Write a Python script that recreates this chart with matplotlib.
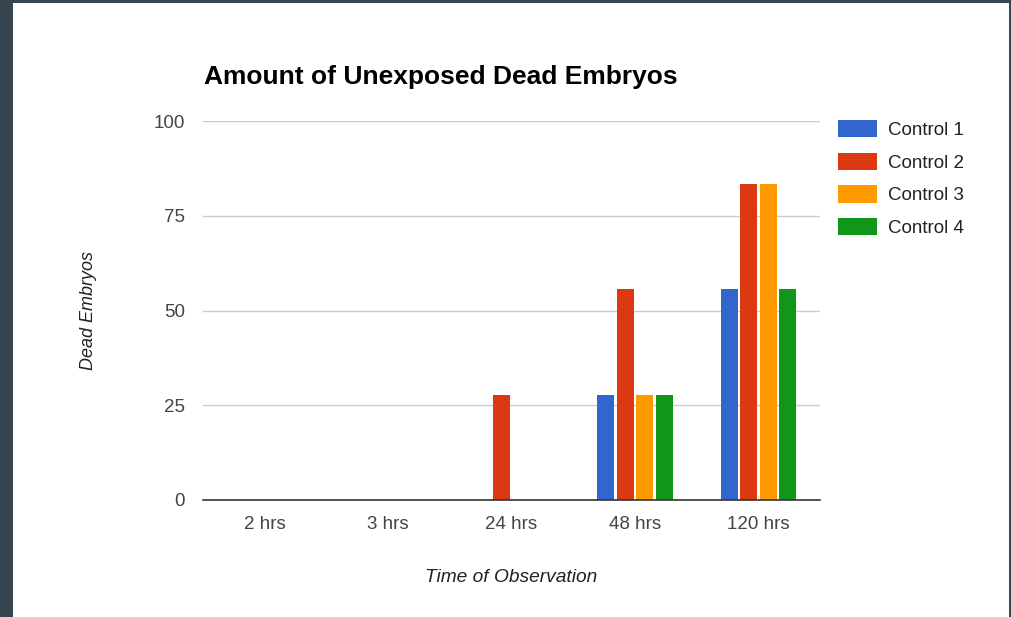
import matplotlib.pyplot as plt
import numpy as np

# Dead embryos (out of 18, as percent) per observation time
times = ["2 hrs", "3 hrs", "24 hrs", "48 hrs", "120 hrs"]
control_1 = [0, 0, 0, 27.78, 55.56]
control_2 = [0, 0, 27.78, 55.56, 83.33]
control_3 = [0, 0, 0, 27.78, 83.33]
control_4 = [0, 0, 0, 27.78, 55.56]
series_names = ["Control 1", "Control 2", "Control 3", "Control 4"]
colors = ["#3366cc", "#dc3912", "#ff9900", "#109618"]

plt.rcParams["font.family"] = ["Liberation Sans", "DejaVu Sans"]

fig = plt.figure(figsize=(10.11, 6.17), dpi=100, facecolor="#364651")
# white card sitting on the dark page background
fig.patches.append(plt.Rectangle((13 / 1011, 0), (1009 - 13) / 1011, 1 - 3 / 617,
                                 transform=fig.transFigure, facecolor="white",
                                 edgecolor="none", zorder=-5))

ax = fig.add_axes([203 / 1011, 1 - 500 / 617, (820 - 203) / 1011, (500 - 121) / 617])
ax.set_facecolor("white")

x = np.arange(len(times))
step = 0.158
width = 0.137
all_series = [control_1, control_2, control_3, control_4]
for i, (vals, name, c) in enumerate(zip(all_series, series_names, colors)):
    offset = (i - 1.5) * step
    ax.bar(x + offset, vals, width, color=c, label=name, zorder=2)

ax.set_xlim(-0.5, len(times) - 0.5)
ax.set_ylim(0, 100)
ax.set_yticks([0, 25, 50, 75, 100])
ax.set_xticks(x)
ax.set_xticklabels(times)
ax.grid(axis="y", color="#cccccc", linewidth=1, zorder=0)
ax.set_axisbelow(True)
for side in ["top", "right", "left"]:
    ax.spines[side].set_visible(False)
ax.spines["bottom"].set_color("#333333")
ax.spines["bottom"].set_linewidth(1.2)
ax.spines["bottom"].set_zorder(3)
ax.tick_params(length=0, labelsize=13.5, labelcolor="#444444")
ax.tick_params(axis="y", pad=13)
ax.tick_params(axis="x", pad=11.5)

ax.set_ylabel("Dead Embryos", fontsize=13, style="italic", color="#222222", labelpad=41)
ax.set_xlabel("Time of Observation", fontsize=13.8, style="italic", color="#222222", labelpad=26)

fig.text(204 / 1011, 1 - 77 / 617, "Amount of Unexposed Dead Embryos",
         fontsize=19, fontweight="bold", color="black", va="center", ha="left")

ax.legend(loc="upper left", bbox_to_anchor=(838 / 1011, 1 - 120 / 617),
          bbox_transform=fig.transFigure, frameon=False, fontsize=13.5,
          handlelength=2.1, handleheight=1.05, labelspacing=0.72,
          handletextpad=0.55, borderpad=0, borderaxespad=0, labelcolor="#222222")

plt.savefig("out.png", dpi=100, facecolor=fig.get_facecolor())
